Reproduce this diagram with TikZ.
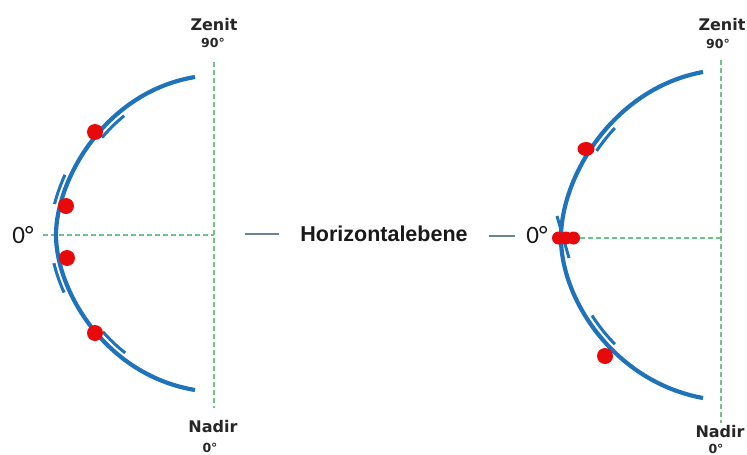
\documentclass[tikz,border=0pt]{standalone}
\usepackage{fontspec}
\setmainfont{Carlito}
\newfontfamily\labelfont{Liberation Sans}
\newfontfamily\polefont{DejaVu Sans}
% the two meridian curves, left and right
\newcommand\leftcurve{(195,-77) .. controls (105,-92) and (56,-180) .. (56,-235)
               .. controls (56,-290) and (105,-375) .. (195,-390)}
\newcommand\rightcurve{(703,-72) .. controls (615,-88) and (561,-175) .. (561,-238)
               .. controls (561,-300) and (615,-382) .. (703,-398)}
% a short band parallel to a curve: centre, first angle, last angle, scale, curve
\newcommand\bandpiece[5]{%
  \begin{scope}
    \clip (#1) -- +(#2:320) -- +(#3:320) -- cycle;
    \draw[band, scale around={#4:(#1)}] #5;
  \end{scope}}
\begin{document}
\begin{tikzpicture}[x=1pt,y=1pt,
  mainarc/.style={draw=arcblue, line width=4.2pt},
  band/.style={draw=arcblue, line width=3pt},
  spot/.style={fill=spotred},
  guide/.style={draw=guidegreen, line width=1.2pt, dash pattern=on 4.5pt off 3.5pt},
  tick/.style={draw=tickgray, line width=1.8pt},
  poletext/.style={font=\polefont\bfseries\fontsize{16}{16}\selectfont, text=black!85, inner sep=0pt, anchor=base},
  degtext/.style={font=\polefont\bfseries\fontsize{12.5}{12.5}\selectfont, text=black!85, inner sep=0pt, anchor=base},
  zerotext/.style={font=\fontsize{25}{25}\selectfont, text=black!90, inner sep=0pt, anchor=base},
  planetext/.style={font=\labelfont\bfseries\fontsize{21.5}{21.5}\selectfont, text=black!90, inner sep=0pt, anchor=base}
]
\definecolor{arcblue}{RGB}{30,115,186}
\definecolor{spotred}{RGB}{232,10,10}
\definecolor{guidegreen}{RGB}{110,195,140}
\definecolor{tickgray}{RGB}{110,130,150}

\useasboundingbox[fill=white] (0,0) rectangle (747,-455);

% ---------- left hemisphere ----------
\coordinate (lz) at (214,-62);
\coordinate (ln) at (214,-408);
\coordinate (lh) at (43,-235);
\coordinate (lc) at (214,-235);
\draw[guide] (lz) -- (ln);
\draw[guide] (lh) -- (lc);

\draw[mainarc] \leftcurve;

\bandpiece{lc}{127}{139}{0.962}{\leftcurve}
\bandpiece{lc}{158}{169}{1.036}{\leftcurve}
\bandpiece{lc}{190}{201}{1.036}{\leftcurve}
\bandpiece{lc}{221}{233}{0.962}{\leftcurve}

\fill[spot] (95,-132) circle (8);
\fill[spot] (66,-206) circle (8);
\fill[spot] (67,-258) circle (8);
\fill[spot] (95,-333) circle (8);

\node[poletext] (lzen) at (214,-30) {Zenit};
\node[degtext] (l90) at (213,-47) {90°};
\node[poletext] (lnad) at (213,-432) {Nadir};
\node[degtext] (l0n) at (210,-452) {0°};
\node[zerotext] (l0) at (23,-243) {0°};

% ---------- horizontal plane label ----------
\coordinate (ta) at (245,-234);
\coordinate (tb) at (279,-234);
\coordinate (tc) at (489,-236);
\coordinate (td) at (515,-236);
\draw[tick] (ta) -- (tb);
\draw[tick] (tc) -- (td);
\node[planetext] (plane) at (384,-241) {Horizontalebene};

% ---------- right hemisphere ----------
\coordinate (rz) at (721,-60);
\coordinate (rn) at (721,-423);
\coordinate (rh) at (580,-238);
\coordinate (rc) at (721,-238);
\draw[guide] (rz) -- (rn);
\draw[guide] (rh) -- (rc);

\draw[mainarc] \rightcurve;

\bandpiece{rc}{134}{145}{0.962}{\rightcurve}
\coordinate (ma) at (557,-216);
\coordinate (mb) at (569,-258);
\draw[band] (ma) -- (mb);
\bandpiece{rc}{211}{225}{0.962}{\rightcurve}

\fill[spot] (586,-149) ellipse [x radius=8.5, y radius=7];
\fill[spot] (558.5,-238) circle (6.5);
\fill[spot] (566,-238) circle (6.5);
\fill[spot] (573.5,-238) circle (6.5);
\fill[spot] (605,-356) circle (8);

\node[poletext] (rzen) at (722,-30) {Zenit};
\node[degtext] (r90) at (718,-48) {90°};
\node[poletext] (rnad) at (720,-437) {Nadir};
\node[degtext] (r0n) at (716,-453) {0°};
\node[zerotext] (r0) at (537,-243) {0°};
\end{tikzpicture}
\end{document}
